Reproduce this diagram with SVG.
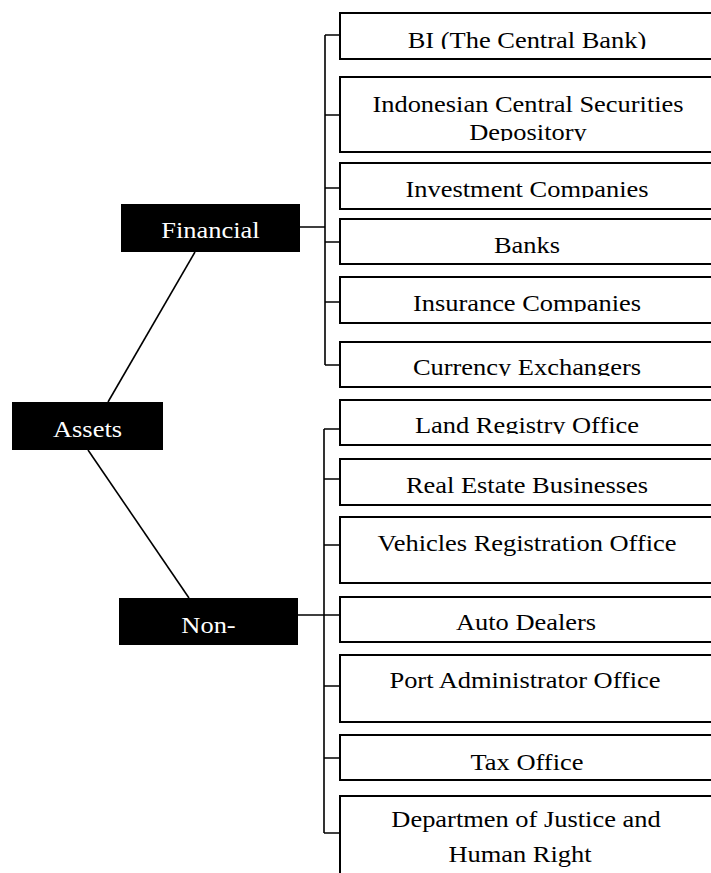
<svg xmlns="http://www.w3.org/2000/svg" width="711" height="873" viewBox="0 0 711 873">
<style>
.box{fill:#fff;stroke:#000;stroke-width:2}
.dark{fill:#000}
.t{font-family:"Liberation Serif","Times New Roman",serif;font-size:23px;fill:#000;text-anchor:middle}
.w{fill:#fff}
.c{fill:none;stroke:#000;stroke-width:1.6}
</style>
<defs>
<clipPath id="cBI"><rect x="340" y="13" width="400" height="36"/></clipPath>
<clipPath id="cIC"><rect x="340" y="77" width="400" height="64"/></clipPath>
<clipPath id="cIV"><rect x="340" y="163" width="400" height="35"/></clipPath>
<clipPath id="cIN"><rect x="340" y="277" width="400" height="35"/></clipPath>
<clipPath id="cCE"><rect x="340" y="342" width="400" height="34"/></clipPath>
<clipPath id="cLR"><rect x="340" y="400" width="400" height="34"/></clipPath>
</defs>
<rect width="711" height="873" fill="#fff"/>
<g id="connectors">
<line class="c" x1="195" y1="252" x2="108" y2="402"/>
<line class="c" x1="88" y1="450" x2="189" y2="598"/>
<path class="c" d="M300 227H325M325 35V365M325 35H340M325 115H340M325 188H340M325 242H340M325 302H340M325 365H340"/>
<path class="c" d="M298 615H324M324 429V833M324 429H340M324 479H340M324 545H340M324 615H340M324 686H340M324 758H340M324 833H340"/>
</g>
<g id="assets"><rect class="dark" x="12" y="402" width="151" height="48"/><text class="t w" transform="translate(87.5 437) scale(1.15 1)">Assets</text></g>
<g id="financial"><rect class="dark" x="121" y="204" width="179" height="48"/><text class="t w" transform="translate(210.5 238) scale(1.15 1)">Financial</text></g>
<g id="nonfinancial"><rect class="dark" x="119" y="598" width="179" height="47"/><text class="t w" transform="translate(208.5 633) scale(1.15 1)">Non-</text></g>
<g id="bi"><rect class="box" x="340" y="13" width="400" height="46"/><g clip-path="url(#cBI)"><text class="t" transform="translate(527 48) scale(1.15 1)">BI (The Central Bank)</text></g></g>
<g id="icsd"><rect class="box" x="340" y="77" width="400" height="75"/><g clip-path="url(#cIC)"><text class="t" transform="translate(528 112) scale(1.15 1)">Indonesian Central Securities</text><text class="t" transform="translate(528 140) scale(1.15 1)">Depository</text></g></g>
<g id="investment"><rect class="box" x="340" y="163" width="400" height="46"/><g clip-path="url(#cIV)"><text class="t" transform="translate(527 197) scale(1.15 1)">Investment Companies</text></g></g>
<g id="banks"><rect class="box" x="340" y="219" width="400" height="45"/><text class="t" transform="translate(527 253) scale(1.15 1)">Banks</text></g>
<g id="insurance"><rect class="box" x="340" y="277" width="400" height="46"/><g clip-path="url(#cIN)"><text class="t" transform="translate(527 311) scale(1.15 1)">Insurance Companies</text></g></g>
<g id="currency"><rect class="box" x="340" y="342" width="400" height="45"/><g clip-path="url(#cCE)"><text class="t" transform="translate(527 375) scale(1.15 1)">Currency Exchangers</text></g></g>
<g id="land"><rect class="box" x="340" y="400" width="400" height="45"/><g clip-path="url(#cLR)"><text class="t" transform="translate(527 433) scale(1.15 1)">Land Registry Office</text></g></g>
<g id="realestate"><rect class="box" x="340" y="459" width="400" height="46"/><text class="t" transform="translate(527 493) scale(1.15 1)">Real Estate Businesses</text></g>
<g id="vehicles"><rect class="box" x="340" y="517" width="400" height="66"/><text class="t" transform="translate(527 551) scale(1.15 1)">Vehicles Registration Office</text></g>
<g id="auto"><rect class="box" x="340" y="597" width="400" height="45"/><text class="t" transform="translate(526 630) scale(1.15 1)">Auto Dealers</text></g>
<g id="port"><rect class="box" x="340" y="655" width="400" height="67"/><text class="t" transform="translate(525 688) scale(1.15 1)">Port Administrator Office</text></g>
<g id="tax"><rect class="box" x="340" y="735" width="400" height="45"/><text class="t" transform="translate(527 770) scale(1.15 1)">Tax Office</text></g>
<g id="justice"><rect class="box" x="340" y="796" width="400" height="100"/><text class="t" transform="translate(526 827) scale(1.15 1)">Departmen of Justice and</text><text class="t" transform="translate(520 862) scale(1.15 1)">Human Right</text></g>
</svg>
